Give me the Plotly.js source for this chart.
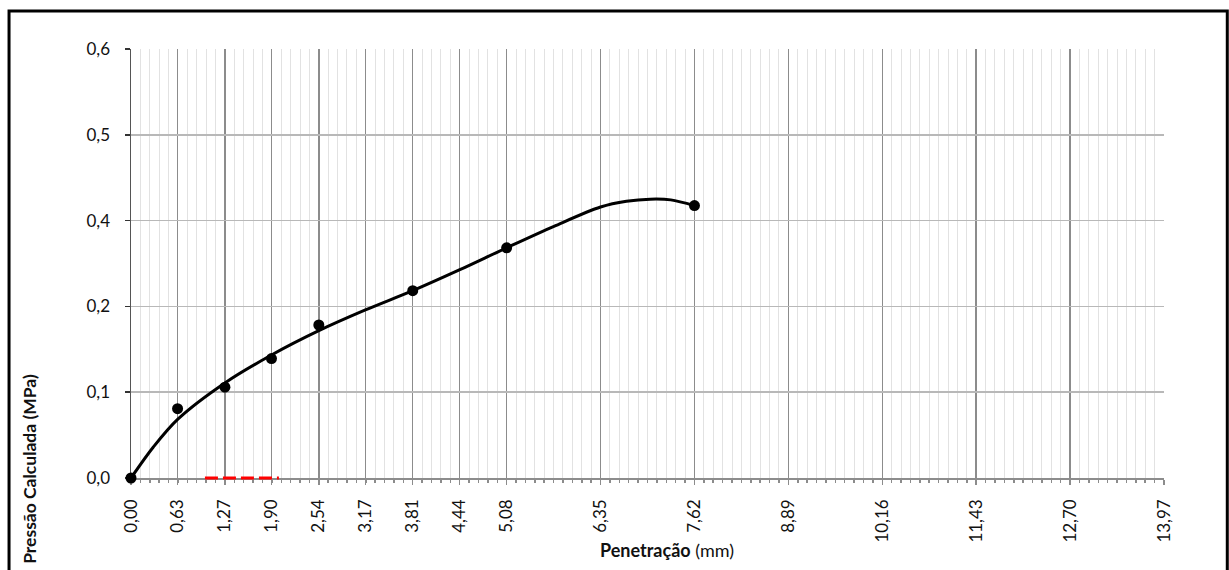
<!DOCTYPE html>
<html>
<head>
<meta charset="utf-8">
<script src="https://cdn.plot.ly/plotly-3.0.1.min.js"></script>
<style>
  html, body { margin: 0; padding: 0; background: #fff; }
  #chart { width: 1229px; height: 570px; }
</style>
</head>
<body>
<div id="chart"></div>
<script>
// Measured points (Penetração mm, Pressão MPa)
const pointX = [0, 0.63, 1.27, 1.90, 2.54, 3.81, 5.08, 7.62];
const pointY = [0, 0.097, 0.127, 0.167, 0.214, 0.262, 0.322, 0.381];

// Trend curve
const trendX = [0, 0.30, 0.63, 1.27, 1.90, 2.54, 3.17, 3.81, 4.44, 5.08, 5.72, 6.35, 6.70, 7.02, 7.30, 7.62];
const trendY = [0, 0.043, 0.082, 0.133, 0.172, 0.206, 0.235, 0.262, 0.291, 0.322, 0.352, 0.379, 0.387, 0.390, 0.389, 0.381];

// Red dashed segment on the x axis
const redX = [1.0, 2.0];
const redY = [0, 0];

// Axis ticks
const xTickVals = [0, 0.63, 1.27, 1.90, 2.54, 3.17, 3.81, 4.44, 5.08, 6.35, 7.62, 8.89, 10.16, 11.43, 12.70, 13.97];
const xTickText = ["0,00", "0,63", "1,27", "1,90", "2,54", "3,17", "3,81", "4,44", "5,08", "6,35", "7,62", "8,89", "10,16", "11,43", "12,70", "13,97"];
const yTickVals = [0, 0.12, 0.24, 0.36, 0.48, 0.60];
const yTickText = ["0,0", "0,1", "0,2", "0,4", "0,5", "0,6"];

const W = 1229, H = 570;
const L = 130.7, R = 1164, T = 48.5, B0 = 478.5;   // y=0 pixel
const EXTRA = 4;                                   // extra room below y=0 for the red segment
const BM = B0 + EXTRA;                             // bottom of margin box
const px = v => (v - L) / (R - L);
const py = v => (BM - v) / (BM - T);
const X_MAX = 13.97;
const Y_MAX = 0.6;
const y3Min = -EXTRA / (B0 - T) * Y_MAX;

const FONT = "Lato, 'Open Sans', sans-serif";

const traces = [
  {
    x: trendX, y: trendY, type: 'scatter', mode: 'lines',
    line: { color: '#000', width: 3, shape: 'spline', smoothing: 0.9 },
    hoverinfo: 'skip', showlegend: false
  },
  {
    x: pointX, y: pointY, type: 'scatter', mode: 'markers',
    marker: { color: '#000', size: 11 },
    showlegend: false, cliponaxis: false
  },
  {
    x: redX, y: redY, type: 'scatter', mode: 'lines', xaxis: 'x2', yaxis: 'y3',
    line: { color: '#ff0000', width: 3, dash: '13px,5px' },
    showlegend: false
  }
];

const layout = {
  width: W, height: H,
  margin: { l: L, r: W - R, t: T, b: H - BM, pad: 0 },
  paper_bgcolor: '#fff', plot_bgcolor: 'rgba(0,0,0,0)',
  showlegend: false,
  font: { family: FONT, size: 17, color: '#111' },
  xaxis: {
    range: [0, X_MAX], type: 'linear', anchor: 'y',
    tickmode: 'array', tickvals: xTickVals, ticktext: xTickText,
    tickangle: -90,
    showgrid: true, gridcolor: '#8c8c8c', gridwidth: 1.5,
    showline: true, linecolor: '#8c8c8c', linewidth: 1.5,
    ticks: 'outside', ticklen: 5, tickcolor: '#8c8c8c', tickwidth: 1.5,
    ticklabelstandoff: 8,
    zeroline: false, layer: 'below traces',
    tickfont: { family: FONT, size: 17, color: '#111' },
    minor: {
      tickmode: 'linear', tick0: 0, dtick: 0.127,
      showgrid: true, gridcolor: '#e2e2e2', gridwidth: 1,
      ticks: 'outside', ticklen: 3, tickcolor: '#8c8c8c', tickwidth: 1.5
    }
  },
  yaxis: {
    range: [0, Y_MAX], type: 'linear', anchor: 'x',
    domain: [EXTRA / (BM - T), 1],
    tickmode: 'array', tickvals: yTickVals, ticktext: yTickText,
    showgrid: true, gridcolor: '#b8b8b8', gridwidth: 1.5,
    showline: true, linecolor: '#555', linewidth: 1.5,
    ticks: 'outside', ticklen: 5, tickcolor: '#333', tickwidth: 1.5,
    ticklabelstandoff: 11,
    zeroline: false, layer: 'below traces',
    tickfont: { family: FONT, size: 17, color: '#111' }
  },
  xaxis2: {
    range: [0, X_MAX], domain: [0, 1], anchor: 'y3',
    visible: false, showgrid: false, zeroline: false, fixedrange: true
  },
  yaxis3: {
    range: [y3Min, Y_MAX], domain: [0, 1], anchor: 'x2',
    visible: false, showgrid: false, zeroline: false, fixedrange: true
  },
  shapes: [
    {
      type: 'rect', xref: 'paper', yref: 'paper',
      x0: px(8.7), x1: px(1227.3), y0: py(575), y1: py(10.5),
      line: { color: '#000', width: 3 }, fillcolor: 'rgba(0,0,0,0)', layer: 'above'
    }
  ],
  annotations: [
    {
      text: '<b>Penetração</b> (mm)', xref: 'paper', yref: 'paper',
      x: px(667), y: py(551), xanchor: 'center', yanchor: 'middle',
      showarrow: false, font: { family: FONT, size: 18, color: '#111' }
    },
    {
      text: '<b>Pressão Calculada (MPa)</b>', xref: 'paper', yref: 'paper',
      x: px(29), y: py(469), xanchor: 'center', yanchor: 'middle',
      textangle: -90,
      showarrow: false, font: { family: FONT, size: 17.5, color: '#111' }
    }
  ]
};

Plotly.newPlot('chart', traces, layout, { staticPlot: true, displayModeBar: false });
</script>
</body>
</html>
